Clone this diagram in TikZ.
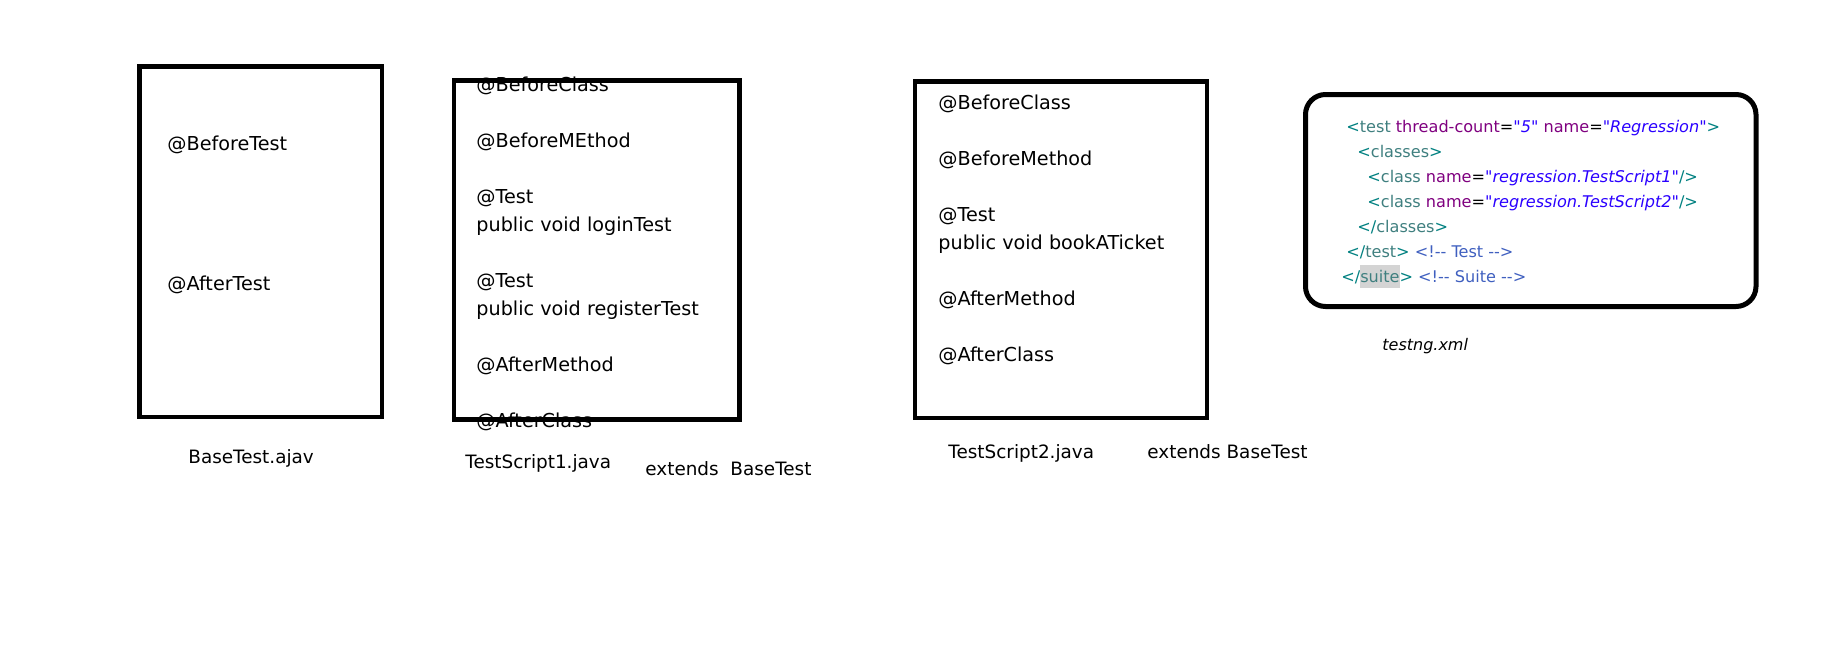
\documentclass[tikz,border=0pt]{standalone}
\usepackage{fontspec}
\setmainfont{DejaVu Sans}
\usepackage{xcolor}
\usepackage{tikz}
\usetikzlibrary{positioning}

\definecolor{xmlbracket}{RGB}{0,128,128}
\definecolor{xmltag}{RGB}{63,127,127}
\definecolor{xmlattr}{RGB}{127,0,127}
\definecolor{xmlvalue}{RGB}{42,0,255}
\definecolor{xmlcomment}{RGB}{63,95,191}
\definecolor{xmlmark}{RGB}{212,212,212}
\setlength{\fboxsep}{0pt}
\newcommand{\xlt}{\textcolor{xmlbracket}{<}}
\newcommand{\xgt}{\textcolor{xmlbracket}{>}}
\newcommand{\xtag}[1]{\textcolor{xmltag}{#1}}
\newcommand{\xattr}[1]{\textcolor{xmlattr}{#1}}
\newcommand{\xval}[1]{\textcolor{xmlvalue}{\itshape\textquotedbl#1\textquotedbl}}
\newcommand{\xcom}[1]{\textcolor{xmlcomment}{<!-{}- #1 -{}->}}

\begin{document}
\begin{tikzpicture}[x=0.5pt,y=-0.5pt,
		code/.style={anchor=base west, align=left, inner sep=0pt, font=\fontsize{9.6}{14}\selectfont},
		caption/.style={anchor=base west, inner sep=0pt, font=\fontsize{9.2}{11}\selectfont},
		xml/.style={anchor=base west, align=left, inner sep=0pt, font=\fontsize{8.05}{12.5}\selectfont},
		javabox/.style={draw, line width=2.25pt, inner sep=0pt},
		xmlbox/.style={draw, line width=2.5pt, rounded corners=10pt, inner sep=0pt}]
		\useasboundingbox (0,0) rectangle (1828,648);
		\node[code] (before-test)  at (167,150) {@BeforeTest};
		\node[code] (after-test)   at (167,290) {@AfterTest};
		\node[code] (script1-code) at (476,427) {@BeforeClass\\[14pt]@BeforeMEthod\\[14pt]@Test\\public void loginTest\\[14pt]@Test\\public void registerTest\\[14pt]@AfterMethod\\[14pt]@AfterClass};
		\node[code] (script2-code) at (938,361) {@BeforeClass\\[14pt]@BeforeMethod\\[14pt]@Test\\public void bookATicket\\[14pt]@AfterMethod\\[14pt]@AfterClass};
		\node[xml]  (suite-code)   at (1341,282) {\hspace*{2.5pt}\xlt\xtag{test} \xattr{thread-count}=\xval{5} \xattr{name}=\xval{Regression}\xgt\\\hspace*{8pt}\xlt\xtag{classes}\xgt\\\hspace*{13pt}\xlt\xtag{class} \xattr{name}=\xval{regression.TestScript1}\textcolor{xmlbracket}{/>}\\\hspace*{13pt}\xlt\xtag{class} \xattr{name}=\xval{regression.TestScript2}\textcolor{xmlbracket}{/>}\\\hspace*{8pt}\textcolor{xmlbracket}{</}\xtag{classes}\xgt\\\hspace*{2.5pt}\textcolor{xmlbracket}{</}\xtag{test}\xgt{} \xcom{Test}\\\textcolor{xmlbracket}{</}\colorbox{xmlmark}{\rule[-3pt]{0pt}{11.5pt}\xtag{suite}}\xgt{} \xcom{Suite}};
		\node[javabox, minimum width=121.25pt, minimum height=175.25pt] (basetest) at (260.75,241.75) {};
		\node[javabox, minimum width=142.75pt, minimum height=169.5pt]  (script1)  at (596.75,250)   {};
		\node[javabox, minimum width=146pt,    minimum height=168.25pt] (script2)  at (1061,249.75)  {};
		\node[xmlbox,  minimum width=225.25pt, minimum height=106pt]    (suite)    at (1530.75,200.5) {};
		\node[caption] (basetest-name)   at (188,463)  {BaseTest.ajav};
		\node[caption] (script1-name)    at (465,468)  {TestScript1.java};
		\node[caption] (script1-extends) at (645,475)  {extends\ \ BaseTest};
		\node[caption] (script2-name)    at (948,458)  {TestScript2.java};
		\node[caption] (script2-extends) at (1147,458) {extends BaseTest};
		\node[caption, font=\fontsize{8}{10}\selectfont\itshape] (suite-name) at (1382,350) {testng.xml};
	\end{tikzpicture}
\end{document}
